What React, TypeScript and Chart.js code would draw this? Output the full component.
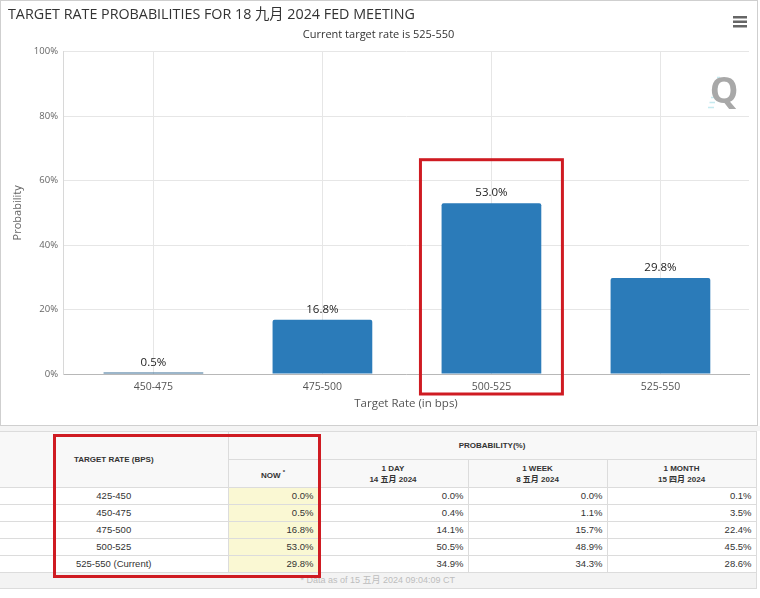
import React, { useEffect, useRef } from "react";
import { Chart, registerables } from "chart.js";

Chart.register(...registerables);

// ---------- chart data ----------
const categories = ["450-475", "475-500", "500-525", "525-550"];
const probabilities = [0.5, 16.8, 53.0, 29.8];
const yTickValues = [0, 20, 40, 60, 80, 100];
const highlightedCategory = "500-525";

const chartTitle = "TARGET RATE PROBABILITIES FOR 18 九月 2024 FED MEETING";
const chartSubtitle = "Current target rate is 525-550";
const xAxisTitle = "Target Rate (in bps)";
const yAxisTitle = "Probability";

// ---------- table data ----------
const tableRates = ["425-450", "450-475", "475-500", "500-525", "525-550 (Current)"];
const nowValues = [0.0, 0.5, 16.8, 53.0, 29.8];
const oneDayValues = [0.0, 0.4, 14.1, 50.5, 34.9];
const oneWeekValues = [0.0, 1.1, 15.7, 48.9, 34.3];
const oneMonthValues = [0.1, 3.5, 22.4, 45.5, 28.6];
const periodHeaders = [
  ["1 DAY", "14 五月 2024"],
  ["1 WEEK", "8 五月 2024"],
  ["1 MONTH", "15 四月 2024"],
];
const footerNote = "* Data as of 15 五月 2024 09:04:09 CT";

const CHART_FONT = "'Open Sans', 'Noto Sans CJK SC', sans-serif";
const TABLE_FONT = "'Liberation Sans', Arial, 'Noto Sans CJK SC', sans-serif";
const BAR_COLOR = "#2b7bb9";
const RED = "#cf1b22";

const decorPlugin = {
  id: "decor",
  beforeDraw(chart: any) {
    const { ctx, width, height } = chart;
    ctx.save();
    ctx.fillStyle = "#ffffff";
    ctx.fillRect(0, 0, width, height);
    ctx.strokeStyle = "#cfcfcf";
    ctx.lineWidth = 1;
    ctx.strokeRect(0.5, 0.5, width - 3, height - 1);
    ctx.restore();
  },
  afterDatasetsDraw(chart: any) {
    const { ctx, chartArea, width } = chart;
    const xs = chart.scales.x;
    const ys = chart.scales.y;
    const meta = chart.getDatasetMeta(0);
    ctx.save();
    // data labels
    ctx.font = `11.5px ${CHART_FONT}`;
    ctx.fillStyle = "#222";
    ctx.textAlign = "center";
    ctx.textBaseline = "middle";
    meta.data.forEach((bar: any, i: number) => {
      ctx.fillText(probabilities[i].toFixed(1) + "%", bar.x, bar.y - 10);
    });
    // highlight rectangle around the chosen category
    const hi = categories.indexOf(highlightedCategory);
    const l = xs.getPixelForValue(hi - 0.42);
    const r = xs.getPixelForValue(hi + 0.42);
    const t = ys.getPixelForValue(66.5);
    const b = ys.bottom + 20;
    ctx.strokeStyle = RED;
    ctx.lineWidth = 3;
    ctx.strokeRect(l, t, r - l, b - t);
    // hamburger menu
    ctx.fillStyle = "#666";
    const hx = width - 27;
    [16, 20.5, 25].forEach((yy) => ctx.fillRect(hx, yy, 14, 2.5));
    // watermark "Q"
    const qx = chartArea.right - 25;
    const qy = chartArea.top + 41;
    ctx.fillStyle = "rgba(160,220,230,0.6)";
    for (let k = 0; k < 7; k++) {
      ctx.fillRect(qx - 16 + k * 1.5, qy + 14 - k * 5, 6 - k * 0.5, 1.5);
    }
    ctx.font = `bold 36px ${CHART_FONT}`;
    ctx.fillStyle = "#a8a8a8";
    ctx.fillText("Q", qx, qy);
    ctx.restore();
  },
};

function ProbabilityChart() {
  const ref = useRef<HTMLCanvasElement | null>(null);
  useEffect(() => {
    if (!ref.current) return;
    const chart = new Chart(ref.current, {
      type: "bar",
      data: {
        datasets: [
          {
            data: probabilities.map((v, i) => ({ x: i, y: v })),
            backgroundColor: (c: any) => (probabilities[c.dataIndex] < 2 ? "#3a6f96" : BAR_COLOR),
            borderRadius: (c: any) => (probabilities[c.dataIndex] < 2 ? 0 : 2),
            borderSkipped: "start",
            categoryPercentage: 1,
            barPercentage: 0.59,
          } as any,
        ],
      },
      options: {
        responsive: false,
        animation: false,
        events: [],
        layout: { padding: { left: 8, right: 11, top: 0, bottom: 0 } },
        plugins: {
          legend: { display: false },
          tooltip: { enabled: false },
          title: {
            display: true,
            text: chartTitle,
            align: "start",
            color: "#333",
            font: { family: CHART_FONT, size: 14.3, weight: "normal" },
            padding: { top: 6.5, bottom: 0 },
          },
          subtitle: {
            display: true,
            text: chartSubtitle,
            color: "#333",
            font: { family: CHART_FONT, size: 11, weight: "normal" },
            padding: { top: 4.5, bottom: 10.4 },
          },
        },
        scales: {
          x: {
            type: "linear",
            min: -0.535,
            max: 3.524,
            offset: false,
            bounds: "data",
            grid: { offset: false, color: "#e6e6e6", drawTicks: false },
            border: { display: true, color: "#b8b8b8" },
            ticks: {
              autoSkip: false,
              padding: 7,
              color: "#555",
              font: { family: CHART_FONT, size: 10.5 },
              callback: (v: any) => categories[v] ?? "",
            },
            afterBuildTicks: (scale: any) => {
              scale.ticks = categories.map((_, i) => ({ value: i }));
            },
            title: {
              display: true,
              text: xAxisTitle,
              color: "#555",
              font: { family: CHART_FONT, size: 11.5 },
              padding: { top: 0, bottom: 15.4 },
            },
            afterFit: (scale: any) => {
              scale.height = 52;
            },
          } as any,
          y: {
            min: 0,
            max: 100,
            grid: { color: "#e6e6e6", drawTicks: false },
            border: { display: true, color: "#d8d8d8" },
            ticks: {
              padding: 5,
              color: "#666",
              font: { family: CHART_FONT, size: 9.5 },
              callback: (v: any) => v + "%",
            },
            afterBuildTicks: (scale: any) => {
              scale.ticks = yTickValues.map((v) => ({ value: v }));
            },
            title: {
              display: true,
              text: yAxisTitle,
              color: "#666",
              font: { family: CHART_FONT, size: 11 },
              padding: { top: 3.4, bottom: 0 },
            },
            afterFit: (scale: any) => {
              scale.width = 55;
            },
          } as any,
        },
      },
      plugins: [decorPlugin],
    });
    return () => chart.destroy();
  }, []);
  return (
    <canvas
      ref={ref}
      width={760}
      height={426}
      style={{ position: "absolute", left: 0, top: 0, width: 760, height: 426 }}
    />
  );
}

const cellBorder = "1px solid #dcdcdc";
const fmt = (v: number) => v.toFixed(1) + "%";

function ProbabilityTable() {
  const headStyle: React.CSSProperties = {
    border: cellBorder,
    background: "#f8f8f8",
    fontWeight: "bold",
    fontSize: 8,
    textAlign: "center",
    verticalAlign: "middle",
    padding: 0,
    color: "#333",
    lineHeight: "11px",
  };
  const bodyStyle: React.CSSProperties = {
    border: cellBorder,
    fontSize: 9.5,
    padding: "0 4px",
    height: 16,
    lineHeight: "16px",
    textAlign: "right",
    color: "#333",
  };
  return (
    <table
      style={{
        position: "absolute",
        left: 0,
        top: 431,
        width: 756,
        borderCollapse: "collapse",
        tableLayout: "fixed",
        fontFamily: TABLE_FONT,
        background: "#fff",
      }}
    >
      <colgroup>
        <col style={{ width: 228 }} />
        <col style={{ width: 90 }} />
        <col style={{ width: 150 }} />
        <col style={{ width: 139 }} />
        <col style={{ width: 149 }} />
      </colgroup>
      <tbody>
        <tr style={{ height: 28 }}>
          <td rowSpan={2} style={{ ...headStyle, borderLeft: "none" }}>
            TARGET RATE (BPS)
          </td>
          <td colSpan={4} style={headStyle}>
            PROBABILITY(%)
          </td>
        </tr>
        <tr style={{ height: 28 }}>
          <td style={headStyle}>
            NOW <sup style={{ fontSize: 6 }}>*</sup>
          </td>
          {periodHeaders.map((h) => (
            <td key={h[0]} style={headStyle}>
              {h[0]}
              <br />
              {h[1]}
            </td>
          ))}
        </tr>
        {tableRates.map((rate, i) => (
          <tr key={rate} style={{ height: 17 }}>
            <td style={{ ...bodyStyle, textAlign: "center", borderLeft: "none" }}>{rate}</td>
            <td style={{ ...bodyStyle, background: "#faf8d3" }}>{fmt(nowValues[i])}</td>
            <td style={bodyStyle}>{fmt(oneDayValues[i])}</td>
            <td style={bodyStyle}>{fmt(oneWeekValues[i])}</td>
            <td style={bodyStyle}>{fmt(oneMonthValues[i])}</td>
          </tr>
        ))}
        <tr style={{ height: 16 }}>
          <td
            colSpan={5}
            style={{
              border: cellBorder,
              borderLeft: "none",
              background: "#f3f3f3",
              color: "#bdbdbd",
              fontSize: 9,
              textAlign: "center",
              padding: 0,
              lineHeight: "15px",
            }}
          >
            {footerNote}
          </td>
        </tr>
      </tbody>
    </table>
  );
}

export default function App() {
  return (
    <div
      style={{
        position: "fixed",
        left: 0,
        top: 0,
        width: 760,
        height: 598,
        background: "#fff",
        overflow: "hidden",
      }}
    >
      <div style={{ position: "absolute", left: 0, top: 426, width: 760, height: 5, background: "#f4f4f4" }} />
      <ProbabilityChart />
      <ProbabilityTable />
      <div
        style={{
          position: "absolute",
          left: 53,
          top: 434,
          width: 268,
          height: 144,
          border: `3px solid ${RED}`,
          boxSizing: "border-box",
          pointerEvents: "none",
        }}
      />
    </div>
  );
}
